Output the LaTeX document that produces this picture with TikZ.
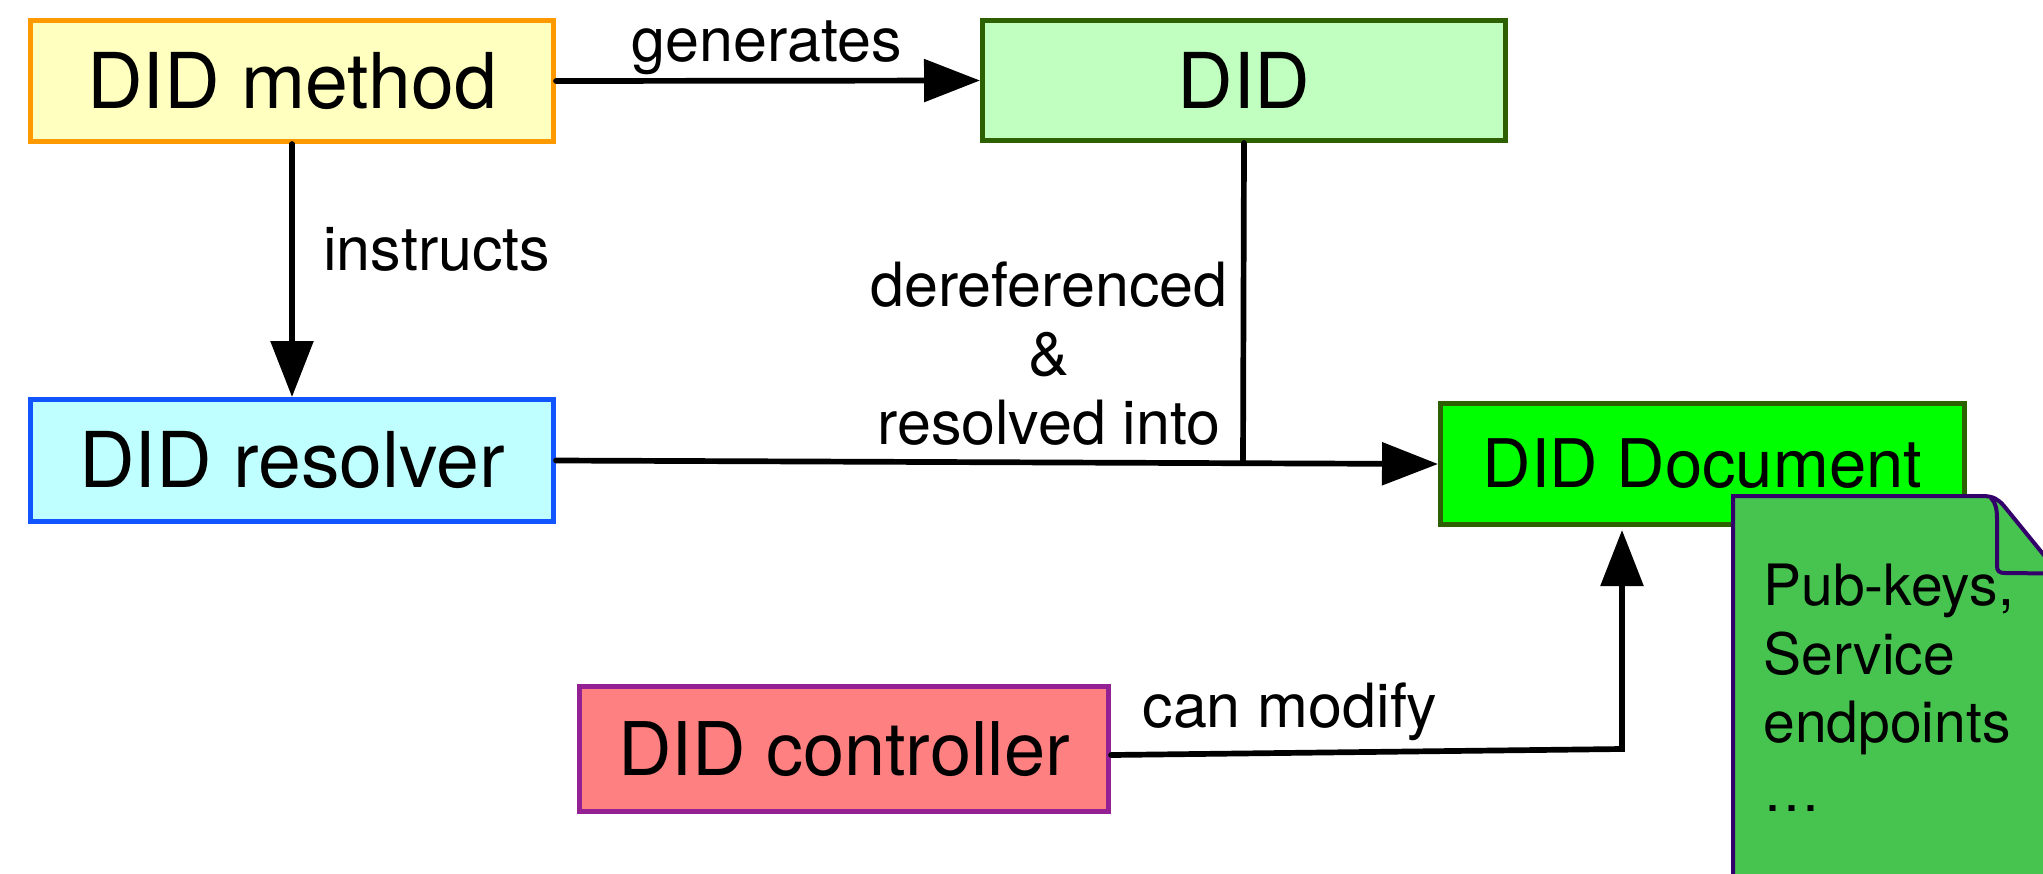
\documentclass[tikz,border=0pt]{standalone}
\usepackage{fontspec}
\setmainfont{TeX Gyre Heros}
\usetikzlibrary{arrows.meta}
\definecolor{methodfill}{HTML}{FFFFC0}
\definecolor{methoddraw}{HTML}{FF9900}
\definecolor{didfill}{HTML}{C0FFC0}
\definecolor{darkgreen}{HTML}{2D6000}
\definecolor{resolverfill}{HTML}{C0FFFF}
\definecolor{resolverdraw}{HTML}{1155FF}
\definecolor{docfill}{HTML}{00FF00}
\definecolor{ctrlfill}{HTML}{FF8080}
\definecolor{ctrldraw}{HTML}{942193}
\definecolor{notefill}{HTML}{47C44F}
\definecolor{notedraw}{HTML}{33006B}
\begin{document}
\begin{tikzpicture}[x=0.5pt,y=-0.5pt,
  box/.style={draw, line width=2.5pt, inner sep=0pt, align=center, font=\fontsize{38.5}{40}\selectfont},
  arr/.style={line width=2.85pt, line cap=round, -{Triangle[length=28pt,width=21pt]}},
  conn/.style={line width=2.85pt, line cap=round},
  lbl/.style={font=\fontsize{30.5}{34.5}\selectfont, inner sep=0pt},
  notetxt/.style={font=\fontsize{28.5}{34.25}\selectfont, inner sep=0pt, align=left}]
\useasboundingbox (0,0) rectangle (2043,873);
\clip (0,0) rectangle (2043,873);
\node[box, fill=methodfill, draw=methoddraw, minimum width=261.5pt, minimum height=60.5pt] (method) at (292,81) {DID method};
\node[box, fill=didfill, draw=darkgreen, minimum width=261.5pt, minimum height=60pt] (did) at (1244,80.5) {DID};
\node[box, fill=resolverfill, draw=resolverdraw, minimum width=261.5pt, minimum height=61pt] (resolver) at (292,460.5) {DID resolver};
\node[box, fill=docfill, draw=darkgreen, minimum width=262pt, minimum height=60.5pt, font=\fontsize{33.5}{36}\selectfont] (doc) at (1702.5,464) {DID Document};
\node[box, fill=ctrlfill, draw=ctrldraw, minimum width=264.5pt, minimum height=62.5pt, font=\fontsize{37}{40}\selectfont] (ctrl) at (844,749) {DID controller};
% connectors
\draw[arr] (method.east) -- (did.west);
\draw[arr] (method.south) -- (resolver.north);
\coordinate (J) at (1243,463);
\draw[arr] (resolver.east) -- (doc.west);
\draw[conn] (did.south) -- (J);
\coordinate (K) at (1622,749);
\draw[arr, shorten >=1.5pt] ([yshift=-3pt]ctrl.east) -- (K) -- (K |- doc.south);
% note
\filldraw[fill=notefill, draw=notedraw, line width=2pt] (1733,900) -- (1733,496) -- (1982,496) .. controls (1993,496) and (1998,499) .. (2004,506) -- (2100,624) -- (2100,900) -- cycle;
\draw[notedraw, line width=2pt] (1991,498) .. controls (1996,503) and (1997,510) .. (1997,520) -- (1997,566) .. controls (1997,571) and (1999,573) .. (2005,573) -- (2100,574);
\node[notetxt, anchor=north west] (notetext) at (1763,564) {Pub-keys,\\Service\\endpoints\\…};
% labels
\node[lbl, anchor=base] (lgen) at (767,61) {generates};
\node[lbl, anchor=base west] (lins) at (323,270) {instructs};
\node[lbl, anchor=north, align=center] (lderef) at (1049,261) {dereferenced\\\&\\resolved into};
\node[lbl, anchor=base] (lmod) at (1290,727) {can modify};
\end{tikzpicture}
\end{document}
